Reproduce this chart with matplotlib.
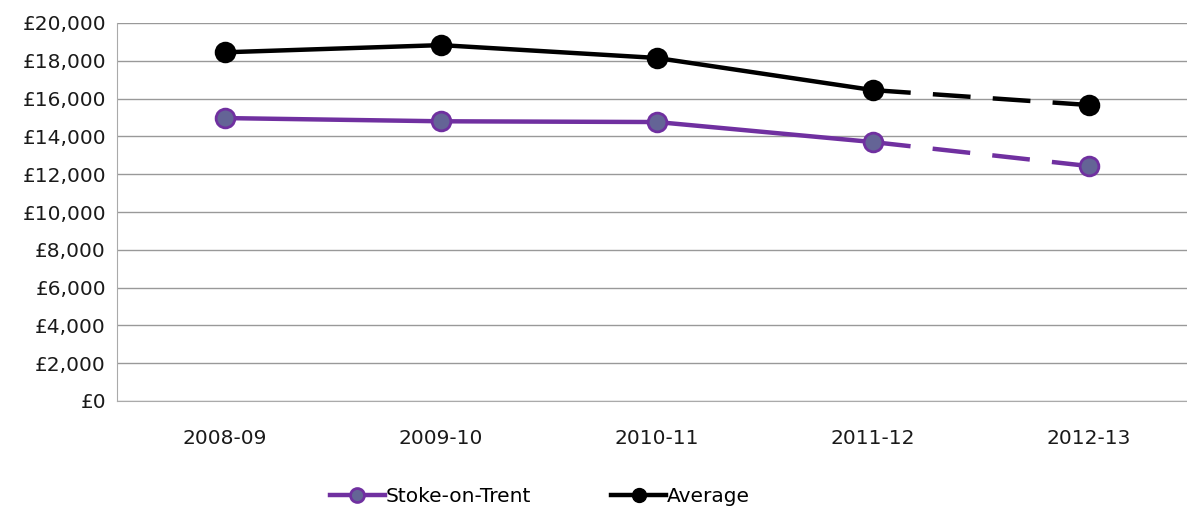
import numpy as np
import matplotlib.pyplot as plt
from matplotlib.lines import Line2D
from matplotlib.ticker import FuncFormatter

years = ['2008-09', '2009-10', '2010-11', '2011-12', '2012-13']
stoke = [14970, 14800, 14760, 13700, 12430]
average = [18450, 18830, 18150, 16450, 15660]

purple = '#7030A0'
purple_face = '#646496'

fig = plt.figure(figsize=(11.87, 5.07), dpi=100)
ax = fig.add_axes([117/1187, 1-401/507, 1080/1187, 378/507])

x = np.arange(len(years))
for vals, col, face in [(stoke, purple, purple_face), (average, 'black', 'black')]:
    ax.plot(x[:4], vals[:4], color=col, lw=3.2, zorder=3)
    ax.plot(x[3:], vals[3:], color=col, lw=3.2, dashes=(8.5, 5), zorder=3)
    ax.plot(x, vals, 'o', ms=13.5, mfc=face, mec=col, mew=2, zorder=4)

ax.set_xlim(-0.5, 4.5)
ax.set_ylim(0, 20000)
ax.set_yticks(range(0, 20001, 2000))
ax.yaxis.set_major_formatter(FuncFormatter(lambda v, p: '£{:,.0f}'.format(v)))
ax.set_xticks(x)
ax.set_xticklabels(years)
ax.grid(axis='y', color='#999999', lw=1)
ax.set_axisbelow(True)
for s in ['top', 'right']:
    ax.spines[s].set_visible(False)
for s in ['left', 'bottom']:
    ax.spines[s].set_color('#aaaaaa')
ax.tick_params(length=0, labelsize=14.5, colors='#1a1a1a')
ax.tick_params(axis='x', pad=20)
ax.tick_params(axis='y', pad=8)

handles = [Line2D([], [], color=purple, lw=3.2, marker='o', ms=10, mfc=purple_face, mec=purple, mew=2),
           Line2D([], [], color='black', lw=3.2, marker='o', ms=10, mfc='black', mec='black')]
fig.legend(handles, ['Stoke-on-Trent', 'Average'], ncol=2, frameon=False,
           loc='center left', bbox_to_anchor=(312/1187, 1-497/507), fontsize=14.5,
           handlelength=2.7, handletextpad=0.05, columnspacing=4.0)

plt.savefig('out.png')
